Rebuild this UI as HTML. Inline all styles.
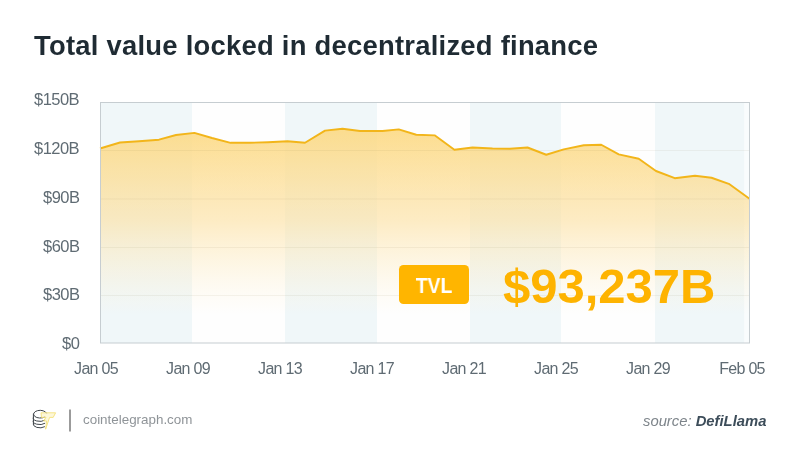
<!DOCTYPE html>
<html><head><meta charset="utf-8">
<style>
html,body{margin:0;padding:0;background:#fff;}
body{width:800px;height:465px;position:relative;overflow:hidden;font-family:"Liberation Sans",sans-serif;}
.t{position:absolute;white-space:nowrap;line-height:1;will-change:transform;}
#title{left:33.5px;top:32px;font-size:27.4px;letter-spacing:0.25px;font-weight:bold;color:#1f2b33;}
.yl{position:absolute;will-change:transform;right:720.8px;font-size:16.5px;letter-spacing:-0.55px;color:#5f6b73;white-space:nowrap;line-height:1;text-align:right;}
.xl{position:absolute;will-change:transform;font-size:16px;letter-spacing:-0.7px;color:#5f6b73;white-space:nowrap;line-height:1;transform:translateX(-50%);}
svg{position:absolute;left:0;top:0;}
#tvl{position:absolute;left:399px;top:265px;width:70px;height:39px;background:#ffb500;border-radius:4.5px;}
#tvlt{left:399px;width:70px;text-align:center;top:276.1px;font-size:21.5px;font-weight:bold;color:#fff;transform:scaleX(0.9);}
#big{left:503px;top:262px;font-size:49px;font-weight:bold;color:#feb300;}
#ct{left:83px;top:413px;font-size:13.4px;color:#8f9498;}
#src{left:643px;top:413.8px;font-size:14.8px;font-style:italic;color:#7d848a;}
#src b{color:#3d4d5a;}
</style></head><body>
<div id="title" class="t">Total value locked in decentralized finance</div>

<svg width="800" height="465" viewBox="0 0 800 465">
<defs>
<linearGradient id="fill" x1="0" y1="128" x2="0" y2="315" gradientUnits="userSpaceOnUse">
<stop offset="0" stop-color="#fbc84a" stop-opacity="0.62"/>
<stop offset="0.5" stop-color="#fbcb5e" stop-opacity="0.36"/>
<stop offset="1" stop-color="#fde3a0" stop-opacity="0.0"/>
</linearGradient>
<linearGradient id="wfill" x1="0" y1="128" x2="0" y2="320" gradientUnits="userSpaceOnUse">
<stop offset="0" stop-color="#fff" stop-opacity="0.75"/>
<stop offset="1" stop-color="#fff" stop-opacity="0"/>
</linearGradient>
</defs>
<!-- bands -->
<rect x="100" y="102" width="92" height="241" fill="#f0f7f9"/>
<rect x="192" y="102" width="93" height="241" fill="#fefefe"/>
<rect x="285" y="102" width="92" height="241" fill="#f0f7f9"/>
<rect x="377" y="102" width="93" height="241" fill="#fefefe"/>
<rect x="470" y="102" width="91" height="241" fill="#f0f7f9"/>
<rect x="561" y="102" width="94" height="241" fill="#fefefe"/>
<rect x="655" y="102" width="89.5" height="241" fill="#f0f7f9"/>
<rect x="744.5" y="102" width="5.5" height="241" fill="#f9fcfd"/>
<!-- area -->
<path d="M100,343 L100,148.5 120,142.5 139,141.2 159,139.7 176,135 194.4,132.9 212,138 230.6,142.8 250,142.8 268,142.2 287.5,141.25 305,142.75 325,130.6 342.5,128.75 360,131 382.5,131 398.75,129.4 416.25,134.75 435,135.4 454.4,149.75 472.5,147.5 492.5,148.5 510,148.75 527.5,147.5 546.25,154.75 563.75,149.4 583.75,145.25 601.25,144.75 618.75,154.4 638.75,158.75 656,171 674.75,178.2 695,175.8 711.5,177.75 729.5,184.2 749.5,198.75 L749.5,343 Z" fill="url(#wfill)"/>
<path d="M100,343 L100,148.5 120,142.5 139,141.2 159,139.7 176,135 194.4,132.9 212,138 230.6,142.8 250,142.8 268,142.2 287.5,141.25 305,142.75 325,130.6 342.5,128.75 360,131 382.5,131 398.75,129.4 416.25,134.75 435,135.4 454.4,149.75 472.5,147.5 492.5,148.5 510,148.75 527.5,147.5 546.25,154.75 563.75,149.4 583.75,145.25 601.25,144.75 618.75,154.4 638.75,158.75 656,171 674.75,178.2 695,175.8 711.5,177.75 729.5,184.2 749.5,198.75 L749.5,343 Z" fill="url(#fill)"/>
<!-- gridlines -->
<g stroke="#6e5a28" stroke-width="1" stroke-opacity="0.065">
<line x1="100" y1="150.5" x2="750" y2="150.5"/>
<line x1="100" y1="199" x2="750" y2="199"/>
<line x1="100" y1="247.5" x2="750" y2="247.5"/>
<line x1="100" y1="295.5" x2="750" y2="295.5"/>
</g>
<!-- line -->
<polyline fill="none" stroke="#f2b51a" stroke-width="1.9" stroke-linejoin="round" points="100,148.5 120,142.5 139,141.2 159,139.7 176,135 194.4,132.9 212,138 230.6,142.8 250,142.8 268,142.2 287.5,141.25 305,142.75 325,130.6 342.5,128.75 360,131 382.5,131 398.75,129.4 416.25,134.75 435,135.4 454.4,149.75 472.5,147.5 492.5,148.5 510,148.75 527.5,147.5 546.25,154.75 563.75,149.4 583.75,145.25 601.25,144.75 618.75,154.4 638.75,158.75 656,171 674.75,178.2 695,175.8 711.5,177.75 729.5,184.2 749.5,198.75"/>
<!-- border -->
<rect x="100.5" y="102.5" width="649" height="240.5" fill="none" stroke="#c6cdd1" stroke-width="1"/>
<!-- logo -->
<g fill="none" stroke="#40464b" stroke-width="1.0" stroke-linecap="round">
<path d="M46.6,413.2 A6.6,3.9 0 1 0 44.8,417.0"/>
<path d="M33.4,414 V424.3"/>
<path d="M33.4,417.2 A6.6,3.3 0 0 0 44.8,420.2"/>
<path d="M33.4,420.4 A6.6,3.3 0 0 0 44.8,423.4"/>
<path d="M33.4,423.6 A6.6,3.6 0 0 0 44.5,426.8"/>
</g>
<path d="M41,412.8 L55.6,412.8 L53.2,417.4 L49.6,417.4 L45.6,429.2 L46.6,421 L43.6,421 L46,417.4 L41.5,417.4 Z" fill="#fbf2c0" fill-opacity="0.6" stroke="#f3df74" stroke-width="0.85" stroke-linejoin="round"/>
<rect x="69" y="409.5" width="2" height="22" fill="#9b9b9b"/>
</svg>

<div class="yl" style="top:91.20px">$150B</div>
<div class="yl" style="top:140.02px">$120B</div>
<div class="yl" style="top:188.84px">$90B</div>
<div class="yl" style="top:237.66px">$60B</div>
<div class="yl" style="top:286.48px">$30B</div>
<div class="yl" style="top:335.30px">$0</div>

<div class="xl" style="left:96px;top:361px">Jan 05</div>
<div class="xl" style="left:188px;top:361px">Jan 09</div>
<div class="xl" style="left:280px;top:361px">Jan 13</div>
<div class="xl" style="left:372px;top:361px">Jan 17</div>
<div class="xl" style="left:464px;top:361px">Jan 21</div>
<div class="xl" style="left:556px;top:361px">Jan 25</div>
<div class="xl" style="left:648px;top:361px">Jan 29</div>
<div class="xl" style="left:742px;top:361px">Feb 05</div>

<div id="tvl"></div>
<div id="tvlt" class="t">TVL</div>
<div id="big" class="t">$93,237B</div>

<div id="ct" class="t">cointelegraph.com</div>
<div id="src" class="t">source: <b>DefiLlama</b></div>
</body></html>
